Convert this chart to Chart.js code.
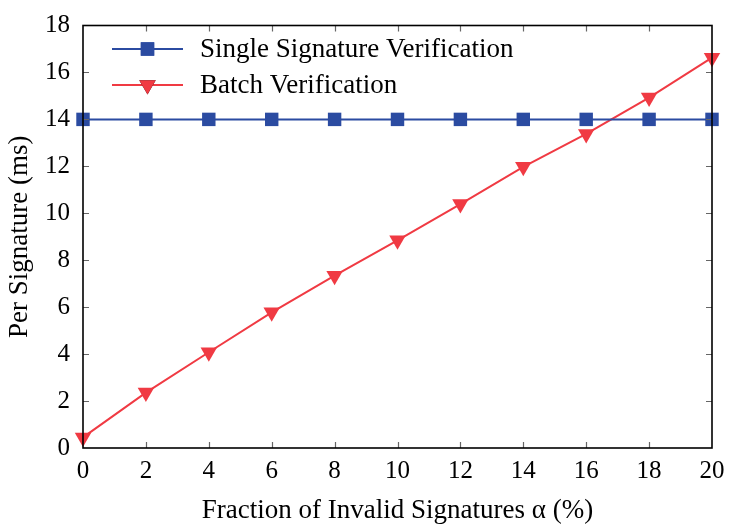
<!DOCTYPE html>
<html>
<head>
<meta charset="utf-8">
<script src="https://cdn.jsdelivr.net/npm/chart.js@4.4.1/dist/chart.umd.min.js"></script>
<style>
  html, body { margin: 0; padding: 0; background: #fff; }
  #wrap { width: 750px; height: 525px; }
</style>
</head>
<body>
<div id="wrap"><canvas id="c" width="750" height="525"></canvas></div>
<script>
// data
const alphaPct  = [0, 2, 4, 6, 8, 10, 12, 14, 16, 18, 20];
const singleMs  = [14, 14, 14, 14, 14, 14, 14, 14, 14, 14, 14];
const batchMs   = [0.45, 2.36, 4.08, 5.78, 7.34, 8.85, 10.39, 11.98, 13.38, 14.93, 16.63];
const xTicks    = [0, 2, 4, 6, 8, 10, 12, 14, 16, 18, 20];
const yTicks    = [0, 2, 4, 6, 8, 10, 12, 14, 16, 18];
const seriesNames = ['Single Signature Verification', 'Batch Verification'];

const BLUE = '#2b4ba1';
const RED  = '#f03a43';
const SERIF = '"Liberation Serif", "DejaVu Serif", serif';

/* gnuplot style frame: box + inward ticks on all four sides + legend inside */
const framePlugin = {
  id: 'frame',
  afterDatasetsDraw(chart) {
    const { ctx, chartArea: a, scales: { x, y } } = chart;
    ctx.save();
    // ticks
    ctx.strokeStyle = '#666';
    ctx.lineWidth = 1.2;
    const tl = 6;
    ctx.beginPath();
    xTicks.forEach(v => {
      const px = Math.round(x.getPixelForValue(v)) + 0.5;
      if (v === xTicks[0] || v === xTicks[xTicks.length - 1]) return;
      ctx.moveTo(px, a.bottom); ctx.lineTo(px, a.bottom - tl);
      ctx.moveTo(px, a.top);    ctx.lineTo(px, a.top + tl);
    });
    yTicks.forEach(v => {
      const py = Math.round(y.getPixelForValue(v)) + 0.5;
      if (v === yTicks[0] || v === yTicks[yTicks.length - 1]) return;
      ctx.moveTo(a.left, py);  ctx.lineTo(a.left + tl, py);
      ctx.moveTo(a.right, py); ctx.lineTo(a.right - tl, py);
    });
    ctx.stroke();
    // box
    ctx.strokeStyle = '#000';
    ctx.lineWidth = 1.6;
    ctx.strokeRect(a.left, a.top, a.right - a.left, a.bottom - a.top);

    // legend
    ctx.font = '27px ' + SERIF;
    ctx.textBaseline = 'middle';
    ctx.textAlign = 'left';
    chart.data.datasets.forEach((ds, i) => {
      const ly = 49 + i * 36;
      const x0 = a.left + 29, x1 = a.left + 100;
      ctx.strokeStyle = ds.borderColor;
      ctx.lineWidth = ds.borderWidth;
      ctx.beginPath(); ctx.moveTo(x0, ly); ctx.lineTo(x1, ly); ctx.stroke();
      Chart.helpers.drawPoint(ctx, {
        pointStyle: ds.pointStyle, rotation: ds.pointRotation || 0,
        radius: ds.pointRadius, borderWidth: 0
      }, (x0 + x1) / 2, ly);
      ctx.fillStyle = ds.pointBackgroundColor;
      ctx.fill();
      ctx.fillStyle = '#000';
      ctx.fillText(ds.label, a.left + 117, ly + 1);
    });
    ctx.restore();
  }
};

new Chart(document.getElementById('c'), {
  type: 'line',
  data: {
    datasets: [
      {
        label: seriesNames[0],
        data: alphaPct.map((v, i) => ({ x: v, y: singleMs[i] })),
        borderColor: BLUE, backgroundColor: BLUE,
        pointBackgroundColor: BLUE, pointBorderColor: BLUE,
        borderWidth: 2, pointStyle: 'rect', pointRadius: 9.5, pointBorderWidth: 0,
        clip: false
      },
      {
        label: seriesNames[1],
        data: alphaPct.map((v, i) => ({ x: v, y: batchMs[i] })),
        borderColor: RED, backgroundColor: RED,
        pointBackgroundColor: RED, pointBorderColor: RED,
        borderWidth: 2, pointStyle: 'triangle', pointRotation: 180,
        pointRadius: 9.5, pointBorderWidth: 0,
        clip: false
      }
    ]
  },
  options: {
    responsive: false,
    animation: false,
    layout: { padding: { top: 24, right: 38, left: 0, bottom: 0 } },
    plugins: { legend: { display: false }, tooltip: { enabled: false } },
    scales: {
      x: {
        type: 'linear', min: 0, max: 20,
        afterBuildTicks: s => { s.ticks = xTicks.map(v => ({ value: v })); },
        afterFit: s => { s.height = 77; },
        grid: { display: false, drawTicks: false },
        border: { display: false },
        ticks: { color: '#000', font: { family: SERIF, size: 25 }, padding: 8, maxRotation: 0 },
        title: { display: true, text: 'Fraction of Invalid Signatures α (%)', color: '#000',
                 font: { family: SERIF, size: 27 }, padding: { top: 4, bottom: -2 } }
      },
      y: {
        type: 'linear', min: 0, max: 18,
        afterBuildTicks: s => { s.ticks = yTicks.map(v => ({ value: v })); },
        afterFit: s => { s.width = 83; },
        grid: { display: false, drawTicks: false },
        border: { display: false },
        ticks: { color: '#000', font: { family: SERIF, size: 25, lineHeight: 1 }, padding: 13 },
        title: { display: true, text: 'Per Signature (ms)', color: '#000',
                 font: { family: SERIF, size: 27 }, padding: { top: 4, bottom: 0 } }
      }
    }
  },
  plugins: [framePlugin]
});
</script>
</body>
</html>
